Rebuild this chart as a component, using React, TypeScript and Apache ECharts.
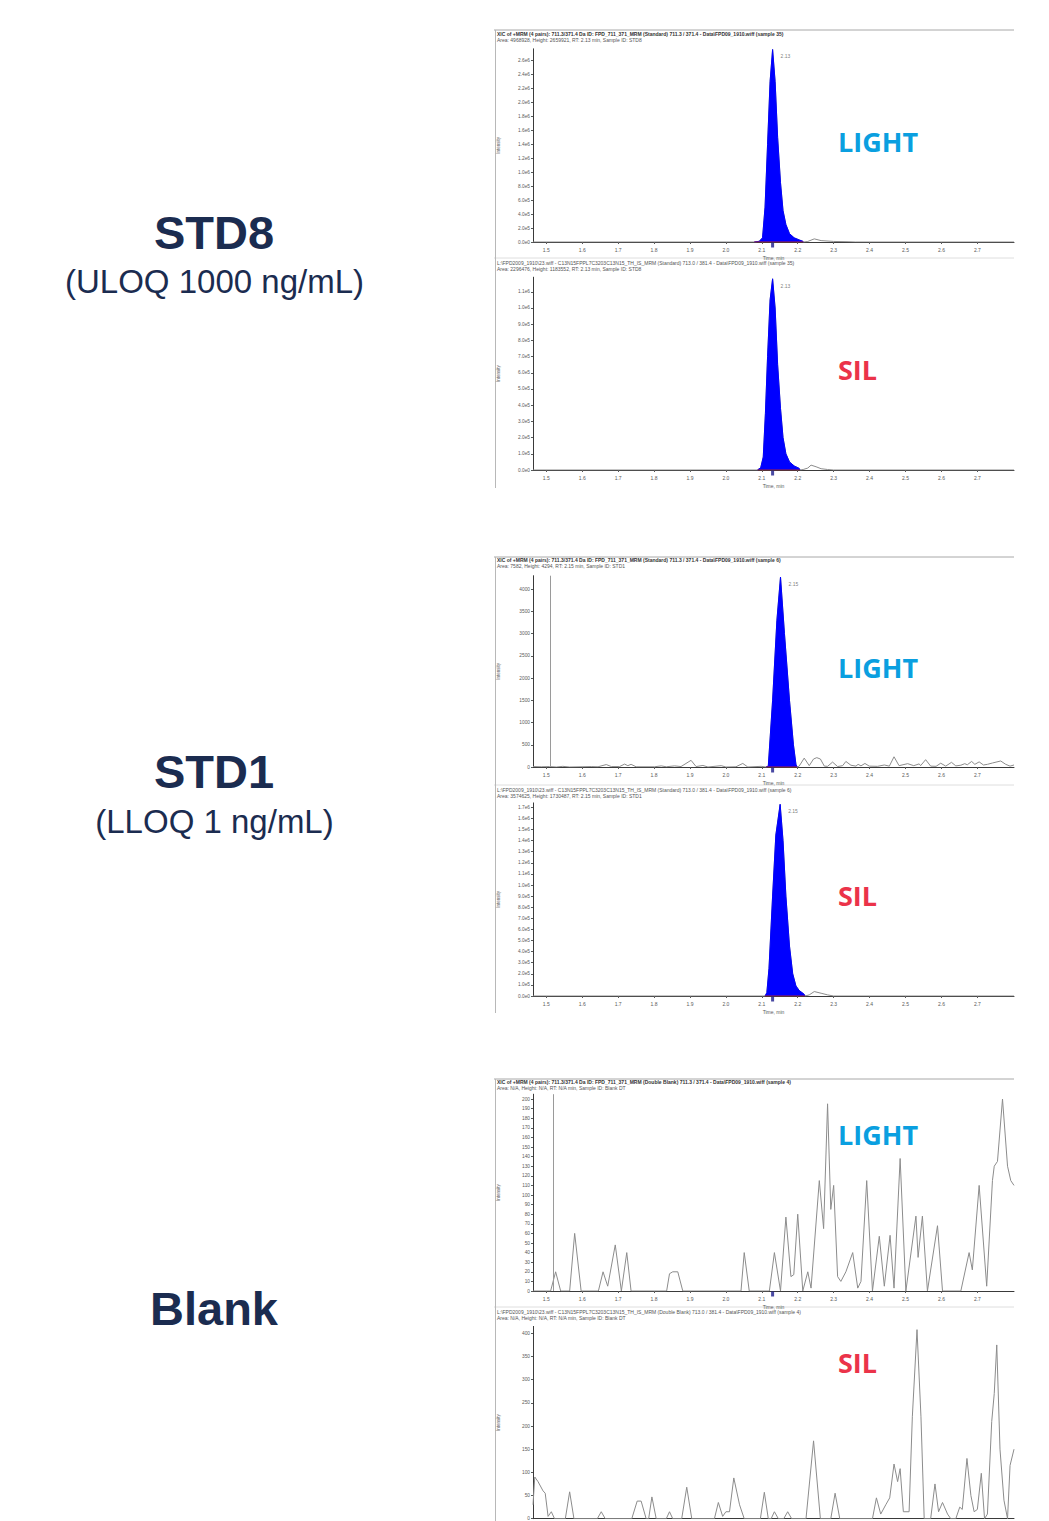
import React, { useEffect, useRef } from "react";
import * as echarts from "echarts";

// ---------- DATA ----------
const xTicks = [1.5, 1.6, 1.7, 1.8, 1.9, 2.0, 2.1, 2.2, 2.3, 2.4, 2.5, 2.6, 2.7];

const yTicksStd8Light = [0, 200000, 400000, 600000, 800000, 1000000, 1200000, 1400000, 1600000, 1800000, 2000000, 2200000, 2400000, 2600000];
const yTicksStd8Sil = [0, 100000, 200000, 300000, 400000, 500000, 600000, 700000, 800000, 900000, 1000000, 1100000];
const yTicksStd1Light = [0, 500, 1000, 1500, 2000, 2500, 3000, 3500, 4000];
const yTicksStd1Sil = [0, 100000, 200000, 300000, 400000, 500000, 600000, 700000, 800000, 900000, 1000000, 1100000, 1200000, 1300000, 1400000, 1500000, 1600000, 1700000];
const yTicksBlankLight = [0, 10, 20, 30, 40, 50, 60, 70, 80, 90, 100, 110, 120, 130, 140, 150, 160, 170, 180, 190, 200];
const yTicksBlankSil = [0, 50, 100, 150, 200, 250, 300, 350, 400];

// STD8 light
const std8LightPre: [number, number][] = [[1.463, 0], [2.079, 0]];
const std8LightPeak: [number, number][] = [
  [2.079, 0], [2.093, 10000], [2.102, 60000], [2.109, 500000], [2.116, 1400000], [2.123, 2300000],
  [2.130, 2760000], [2.137, 2300000], [2.144, 1500000], [2.152, 850000], [2.159, 450000],
  [2.167, 250000], [2.177, 120000], [2.190, 60000], [2.204, 30000], [2.214, 10000], [2.216, 0],
];
const std8LightPost: [number, number][] = [
  [2.228, 8000], [2.246, 45000], [2.265, 20000], [2.300, 8000], [2.340, 4000], [2.360, 0], [2.802, 0],
];

// STD8 SIL
const std8SilPre: [number, number][] = [[1.463, 0], [2.088, 0]];
const std8SilPeak: [number, number][] = [
  [2.088, 0], [2.097, 15000], [2.104, 80000], [2.110, 350000], [2.116, 700000], [2.123, 1050000],
  [2.130, 1180000], [2.137, 1000000], [2.144, 650000], [2.152, 380000], [2.159, 200000],
  [2.167, 100000], [2.177, 50000], [2.190, 25000], [2.204, 10000], [2.206, 0],
];
const std8SilPost: [number, number][] = [
  [2.215, 3000], [2.228, 12000], [2.237, 30000], [2.251, 20000], [2.265, 8000], [2.283, 3000], [2.300, 0], [2.802, 0],
];

// STD1 light
const std1LightPre: [number, number][] = [
  [1.463, 10], [1.486, 5], [1.509, 10], [1.528, 0], [1.546, 15], [1.565, 0], [1.625, 10], [1.644, 5],
  [1.667, 55], [1.681, 10], [1.704, 10], [1.718, 65], [1.727, 30], [1.736, 60], [1.750, 5], [1.801, 5],
  [1.820, 25], [1.834, 5], [1.857, 25], [1.875, 10], [1.903, 150], [1.917, 10], [1.936, 35], [1.950, 0],
  [1.987, 30], [2.000, 0], [2.028, 5], [2.047, 80], [2.061, 0], [2.098, 15], [2.112, 0],
];
const std1LightPeak: [number, number][] = [
  [2.112, 0], [2.118, 20], [2.130, 1500], [2.142, 3300], [2.152, 4270], [2.163, 3000],
  [2.177, 1500], [2.188, 500], [2.195, 60], [2.198, 0],
];
const std1LightPost: [number, number][] = [
  [2.204, 20], [2.218, 200], [2.232, 30], [2.244, 180], [2.253, 210], [2.263, 180], [2.274, 20],
  [2.283, 15], [2.297, 110], [2.311, 10], [2.325, 30], [2.334, 125], [2.348, 40], [2.362, 20],
  [2.368, 60], [2.376, 25], [2.387, 80], [2.399, 20], [2.422, 15], [2.441, 45], [2.455, 20],
  [2.468, 230], [2.482, 30], [2.506, 75], [2.523, 30], [2.538, 70], [2.542, 30], [2.556, 165],
  [2.570, 20], [2.585, 15], [2.598, 85], [2.612, 20], [2.628, 105], [2.640, 25], [2.654, 40],
  [2.665, 75], [2.672, 50], [2.684, 125], [2.693, 60], [2.705, 115], [2.717, 45], [2.728, 60],
  [2.742, 90], [2.765, 135], [2.779, 60], [2.791, 20], [2.802, 45],
];

// STD1 SIL
const std1SilPre: [number, number][] = [[1.463, 0], [2.109, 0]];
const std1SilPeak: [number, number][] = [
  [2.109, 0], [2.114, 30000], [2.120, 250000], [2.130, 900000], [2.139, 1450000], [2.151, 1727000],
  [2.159, 1400000], [2.167, 900000], [2.177, 450000], [2.186, 200000], [2.195, 90000],
  [2.204, 50000], [2.218, 15000], [2.220, 0],
];
const std1SilPost: [number, number][] = [
  [2.232, 10000], [2.246, 40000], [2.265, 25000], [2.283, 10000], [2.300, 0], [2.802, 0],
];

// Blank light
const blankLightTrace: [number, number][] = [
  [1.463, 0], [1.512, 0], [1.526, 20], [1.540, 0], [1.565, 0], [1.579, 60], [1.597, 0], [1.645, 0],
  [1.658, 20], [1.671, 5], [1.692, 48], [1.709, 0], [1.724, 40], [1.736, 0], [1.835, 0], [1.843, 18],
  [1.852, 20], [1.866, 20], [1.880, 0], [2.042, 0], [2.051, 40], [2.065, 0], [2.121, 0], [2.135, 40],
  [2.152, 0], [2.167, 77], [2.181, 15], [2.189, 17], [2.200, 80], [2.214, 0], [2.228, 20], [2.237, 3],
  [2.260, 115], [2.272, 65], [2.283, 195], [2.292, 85], [2.300, 110], [2.311, 15], [2.320, 10],
  [2.334, 20], [2.353, 40], [2.367, 3], [2.376, 10], [2.392, 115], [2.408, 0], [2.427, 57],
  [2.441, 5], [2.457, 58], [2.468, 3], [2.485, 138], [2.501, 0], [2.529, 78], [2.535, 35],
  [2.547, 78], [2.561, 0], [2.589, 68], [2.603, 0], [2.654, 0], [2.677, 40], [2.686, 22],
  [2.705, 110], [2.726, 5], [2.742, 115], [2.747, 130], [2.756, 135], [2.770, 200], [2.784, 130],
  [2.793, 115], [2.802, 110],
];

// Blank SIL
const blankSilTrace: [number, number][] = [
  [1.463, 30], [1.468, 90], [1.477, 80], [1.491, 60], [1.497, 55], [1.505, 5], [1.514, 15], [1.523, 0],
  [1.553, 0], [1.565, 58], [1.577, 0], [1.642, 0], [1.653, 15], [1.664, 0], [1.738, 0], [1.753, 38],
  [1.764, 38], [1.778, 0], [1.785, 0], [1.794, 47], [1.806, 0], [1.834, 0], [1.843, 15], [1.852, 0],
  [1.877, 0], [1.891, 68], [1.905, 0], [1.968, 0], [1.979, 35], [1.991, 5], [2.000, 15], [2.010, 15],
  [2.022, 88], [2.038, 30], [2.051, 0], [2.096, 0], [2.107, 57], [2.118, 0], [2.126, 0], [2.135, 15],
  [2.146, 0], [2.161, 0], [2.172, 15], [2.183, 0], [2.223, 0], [2.244, 168], [2.263, 0], [2.292, 0],
  [2.304, 55], [2.317, 0], [2.408, 0], [2.419, 45], [2.431, 10], [2.445, 30], [2.456, 45], [2.468, 118],
  [2.478, 80], [2.485, 108], [2.494, 15], [2.510, 15], [2.519, 220], [2.532, 408], [2.543, 220],
  [2.552, 0], [2.570, 0], [2.582, 75], [2.592, 15], [2.603, 35], [2.617, 10], [2.626, 0], [2.640, 0],
  [2.651, 25], [2.658, 20], [2.671, 130], [2.682, 50], [2.691, 15], [2.700, 20], [2.711, 98],
  [2.720, 0], [2.728, 10], [2.740, 210], [2.747, 270], [2.754, 375], [2.763, 150], [2.774, 40],
  [2.784, 0], [2.791, 115], [2.802, 150],
];

const sampleNames = ["STD8", "STD1", "Blank"];
const sampleSubs = ["(ULOQ 1000 ng/mL)", "(LLOQ 1 ng/mL)", ""];
const channelTags = ["LIGHT", "SIL"];
const apexLabels = ["2.13", "2.13", "2.15", "2.15"];
const apexPoints: [number, number][] = [[2.13, 2760000], [2.13, 1180000], [2.152, 4270], [2.151, 1727000]];
const expectedRT = 2.13;
const markerLines = [null, null, 1.508, null, 1.524, null];

const headers: string[][] = [
  ["XIC of +MRM (4 pairs): 711.3/371.4 Da ID: FPD_711_371_MRM (Standard) 711.3 / 371.4 - Data\\FPD09_1910.wiff (sample 35)",
   "Area: 4968928, Height: 2659921, RT: 2.13 min, Sample ID: STD8"],
  ["L:\\FPD2009_1910\\23.wiff - C13N15FPPL7C3203C13N15_TH_IS_MRM (Standard) 713.0 / 381.4 - Data\\FPD09_1910.wiff (sample 35)",
   "Area: 2296476, Height: 1183552, RT: 2.13 min, Sample ID: STD8"],
  ["XIC of +MRM (4 pairs): 711.3/371.4 Da ID: FPD_711_371_MRM (Standard) 711.3 / 371.4 - Data\\FPD09_1910.wiff (sample 6)",
   "Area: 7582, Height: 4294, RT: 2.15 min, Sample ID: STD1"],
  ["L:\\FPD2009_1910\\23.wiff - C13N15FPPL7C3203C13N15_TH_IS_MRM (Standard) 713.0 / 381.4 - Data\\FPD09_1910.wiff (sample 6)",
   "Area: 3574625, Height: 1730487, RT: 2.15 min, Sample ID: STD1"],
  ["XIC of +MRM (4 pairs): 711.3/371.4 Da ID: FPD_711_371_MRM (Double Blank) 711.3 / 371.4 - Data\\FPD09_1910.wiff (sample 4)",
   "Area: N/A, Height: N/A, RT: N/A min, Sample ID: Blank DT"],
  ["L:\\FPD2009_1910\\23.wiff - C13N15FPPL7C3203C13N15_TH_IS_MRM (Double Blank) 713.0 / 381.4 - Data\\FPD09_1910.wiff (sample 4)",
   "Area: N/A, Height: N/A, RT: N/A min, Sample ID: Blank DT"],
];

// ---------- LAYOUT ----------
const W = 1049;
const H = 1521;
const PLOT_LEFT = 533;
const PLOT_RIGHT = 1014;
const X_MIN = 1.463;
const X_MAX = 2.802;

const expFmt = (v: number) => v.toExponential(1).replace("e+", "e");
const intFmt = (v: number) => String(Math.round(v));

const panels = [
  { top: 48.8, y0: 242, max: 2770000, ticks: yTicksStd8Light, fmt: expFmt, pre: std8LightPre, peak: std8LightPeak, post: std8LightPost, headerY: 34, tagY: 141, tag: 0, panelTop: 30, xLabels: true },
  { top: 277.2, y0: 470, max: 1190000, ticks: yTicksStd8Sil, fmt: expFmt, pre: std8SilPre, peak: std8SilPeak, post: std8SilPost, headerY: 263, tagY: 369, tag: 1, panelTop: 258, xLabels: true },
  { top: 575.7, y0: 767, max: 4300, ticks: yTicksStd1Light, fmt: intFmt, pre: std1LightPre, peak: std1LightPeak, post: std1LightPost, headerY: 560, tagY: 667, tag: 0, panelTop: 557, xLabels: true },
  { top: 802.9, y0: 996, max: 1740000, ticks: yTicksStd1Sil, fmt: expFmt, pre: std1SilPre, peak: std1SilPeak, post: std1SilPost, headerY: 790, tagY: 895, tag: 1, panelTop: 785, xLabels: true },
  { top: 1094.2, y0: 1291, max: 205, ticks: yTicksBlankLight, fmt: intFmt, pre: blankLightTrace, peak: null, post: [], headerY: 1082, tagY: 1134, tag: 0, panelTop: 1079, xLabels: true },
  { top: 1326.4, y0: 1518.7, max: 415, ticks: yTicksBlankSil, fmt: intFmt, pre: blankSilTrace, peak: null, post: [], headerY: 1312, tagY: 1362, tag: 1, panelTop: 1307, xLabels: false },
];

const labelBlocks = [
  { nameY: 232, subY: 281 },
  { nameY: 771, subY: 821 },
  { nameY: 1308, subY: 0 },
];

const NAVY = "#1b2c50";
const TAG_COLORS = ["#0a9fe0", "#eb3349"];
const TRACE = "#8c8c8c";
const AXIS = "#3a3a3a";
const SMALL = "#5a5a5a";

function buildOption() {
  const grid: any[] = [];
  const xAxis: any[] = [];
  const yAxis: any[] = [];
  const series: any[] = [];
  const graphic: any[] = [];

  panels.forEach((p, i) => {
    grid.push({
      left: PLOT_LEFT, right: W - PLOT_RIGHT, top: p.top, height: p.y0 - p.top,
      containLabel: false, outerBoundsMode: "none",
    });
    xAxis.push({
      type: "value", gridIndex: i, min: X_MIN, max: X_MAX,
      axisLine: { show: true, onZero: false, lineStyle: { color: AXIS, width: 1 } },
      axisTick: { show: p.xLabels, customValues: xTicks, length: 2, lineStyle: { color: SMALL } },
      axisLabel: { show: p.xLabels, customValues: xTicks, fontSize: 5, color: SMALL, margin: 5, formatter: (v: number) => v.toFixed(1) },
      splitLine: { show: false },
      name: p.xLabels ? "Time, min" : "", nameLocation: "middle", nameGap: 13,
      nameTextStyle: { fontSize: 5, color: SMALL },
    });
    yAxis.push({
      type: "value", gridIndex: i, min: 0, max: p.max,
      axisLine: { show: true, lineStyle: { color: AXIS, width: 1 } },
      axisTick: { show: true, customValues: p.ticks, length: 2, lineStyle: { color: SMALL } },
      axisLabel: { customValues: p.ticks, fontSize: 4.8, color: SMALL, margin: 3, formatter: p.fmt },
      splitLine: { show: false },
      name: "Intensity", nameLocation: "middle", nameGap: 32, nameRotate: 90,
      nameTextStyle: { fontSize: 4.5, color: SMALL },
    });

    const trace = p.peak ? [...p.pre, ...p.peak, ...p.post] : p.pre;
    const vline = markerLines[i];
    series.push({
      type: "line", xAxisIndex: i, yAxisIndex: i, data: trace, showSymbol: false, silent: true,
      lineStyle: { color: TRACE, width: 1 }, z: 2,
      markLine: vline == null ? undefined : {
        silent: true, symbol: "none", label: { show: false },
        lineStyle: { color: "#9a9a9a", width: 1, type: "solid" },
        data: [{ xAxis: vline }],
      },
    });
    if (p.peak) {
      series.push({
        type: "line", xAxisIndex: i, yAxisIndex: i, data: p.peak, showSymbol: false, silent: true,
        lineStyle: { color: "#0000ff", width: 1 }, areaStyle: { color: "#0000ff", opacity: 1 }, z: 3,
      });
      series.push({
        type: "line", xAxisIndex: i, yAxisIndex: i,
        data: [[p.peak[0][0], 0], [p.peak[p.peak.length - 1][0], 0]],
        showSymbol: false, silent: true, lineStyle: { color: "#b02030", width: 1 }, z: 4,
      });
      series.push({
        type: "scatter", xAxisIndex: i, yAxisIndex: i, data: [apexPoints[i]], symbolSize: 0, silent: true,
        label: { show: true, formatter: apexLabels[i], position: "right", offset: [3, 7], fontSize: 5, color: SMALL },
        z: 5,
      });
    }
    if (i !== 5) {
      series.push({
        type: "scatter", xAxisIndex: i, yAxisIndex: i, data: [[expectedRT, 0]], symbol: "rect",
        symbolSize: [3, 5], symbolOffset: [0, 3], clip: false, silent: true,
        itemStyle: { color: "#1c1c8c" }, z: 6,
      });
    }

    headers[i].forEach((t, k) => {
      graphic.push({
        type: "text", left: 497, top: p.headerY + k * 6.5 - 3,
        style: { text: t, fontSize: 5, fontFamily: "Liberation Sans", fill: k === 0 && i % 2 === 0 ? "#333" : "#555", fontWeight: k === 0 && i % 2 === 0 ? "bold" : "normal" },
        silent: true,
      });
    });
    graphic.push({
      type: "line", silent: true,
      shape: { x1: 494, y1: p.panelTop, x2: PLOT_RIGHT, y2: p.panelTop },
      style: { stroke: i % 2 === 0 ? "#a8a8a8" : "#dedede", lineWidth: 1 },
    });
    graphic.push({
      type: "text", silent: true, x: 838, y: p.tagY,
      style: {
        text: channelTags[p.tag], fontSize: 27, fontWeight: "bold", fontFamily: "Open Sans",
        fill: TAG_COLORS[p.tag], textAlign: "left", textVerticalAlign: "middle",
      },
    });
  });

  [[30, 488], [557, 1013], [1079, 1521]].forEach(([a, b]) => {
    graphic.push({
      type: "line", silent: true, shape: { x1: 495.5, y1: a, x2: 495.5, y2: b },
      style: { stroke: "#b8b8b8", lineWidth: 1 },
    });
  });

  labelBlocks.forEach((b, i) => {
    graphic.push({
      type: "text", silent: true, x: 214, y: b.nameY,
      style: {
        text: sampleNames[i], fontSize: 47, fontWeight: "bold", fontFamily: "Liberation Sans",
        fill: NAVY, textAlign: "center", textVerticalAlign: "middle",
      },
    });
    if (sampleSubs[i]) {
      graphic.push({
        type: "text", silent: true, x: 214.5, y: b.subY,
        style: {
          text: sampleSubs[i], fontSize: 33, fontFamily: "Liberation Sans",
          fill: NAVY, textAlign: "center", textVerticalAlign: "middle",
        },
      });
    }
  });

  return {
    animation: false,
    backgroundColor: "#ffffff",
    grid, xAxis, yAxis, series, graphic,
  };
}

export default function App() {
  const ref = useRef<HTMLDivElement>(null);
  useEffect(() => {
    if (!ref.current) return;
    const chart = echarts.init(ref.current, null, { renderer: "svg", width: W, height: H });
    chart.setOption(buildOption() as any);
    return () => chart.dispose();
  }, []);
  return (
    <div
      ref={ref}
      style={{ position: "absolute", left: 0, top: 0, width: W, height: H, background: "#fff" }}
    />
  );
}
